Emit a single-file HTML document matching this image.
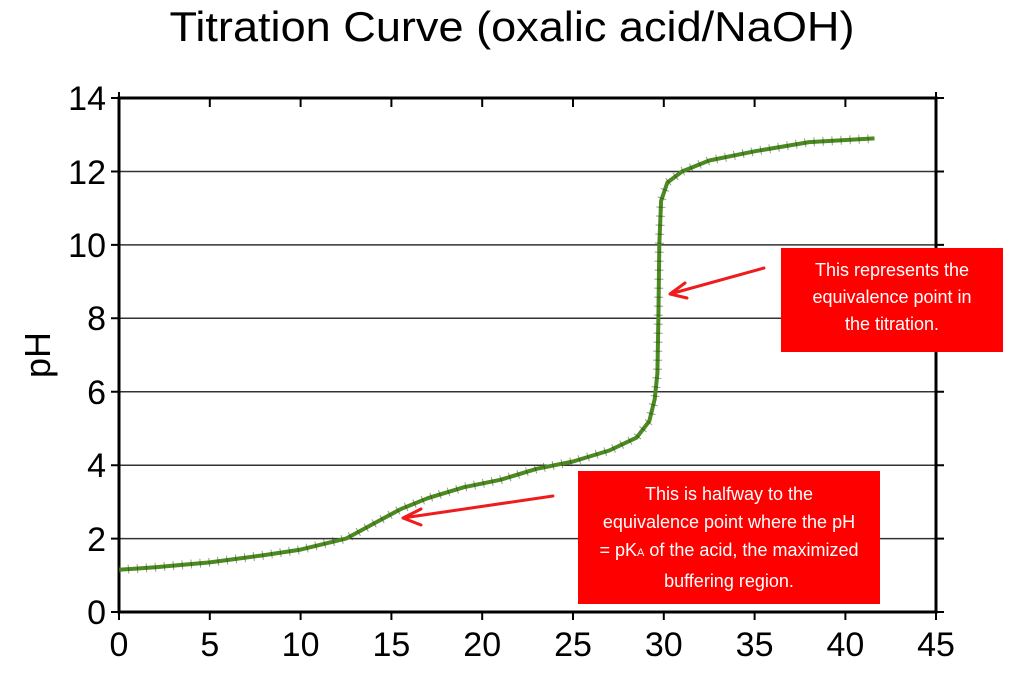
<!DOCTYPE html>
<html><head><meta charset="utf-8"><style>
body{margin:0;background:#fff;}
svg{display:block;font-family:"Liberation Sans",sans-serif;}
.box{position:absolute;box-sizing:border-box;background:#ff0000;color:#fff;font-family:"Liberation Sans",sans-serif;font-size:18px;text-align:center;white-space:nowrap;}
</style></head><body>
<div style="position:relative;width:1024px;height:674px;overflow:hidden">
<svg width="1024" height="674" viewBox="0 0 1024 674">
<text x="512" y="41" font-size="42" text-anchor="middle" textLength="685" lengthAdjust="spacingAndGlyphs">Titration Curve (oxalic acid/NaOH)</text>
<g stroke="#333" stroke-width="1.5">
<line x1="119" x2="936" y1="538.6" y2="538.6"/>
<line x1="119" x2="936" y1="465.2" y2="465.2"/>
<line x1="119" x2="936" y1="391.7" y2="391.7"/>
<line x1="119" x2="936" y1="318.3" y2="318.3"/>
<line x1="119" x2="936" y1="244.9" y2="244.9"/>
<line x1="119" x2="936" y1="171.5" y2="171.5"/>
</g>
<rect x="119" y="98" width="817" height="514" fill="none" stroke="#000" stroke-width="3"/>
<g stroke="#000" stroke-width="2">
<path d="M119 98v-6M209.8 98v9M300.6 98v9M391.4 98v9M482.2 98v9M573 98v9M663.8 98v9M754.6 98v9M845.4 98v9M936 98v-6"/>
<path d="M119 612v8M209.8 612v8M300.6 612v8M391.4 612v8M482.2 612v8M573 612v8M663.8 612v8M754.6 612v8M845.4 612v8M936 612v8"/>
<path d="M119 612h-8M119 538.6h-8M119 465.2h-8M119 391.7h-8M119 318.3h-8M119 244.9h-8M119 171.5h-8M119 98h-8"/>
<path d="M936 612h8M936 538.6h8M936 465.2h8M936 391.7h8M936 318.3h8M936 244.9h8M936 171.5h8M936 98h8"/>
</g>
<g font-size="34" text-anchor="end">
<text x="106" y="624">0</text><text x="106" y="551">2</text><text x="106" y="477">4</text><text x="106" y="404">6</text><text x="106" y="330">8</text><text x="106" y="257">10</text><text x="106" y="184">12</text><text x="106" y="110">14</text>
</g>
<g font-size="34" text-anchor="middle">
<text x="119" y="656">0</text><text x="209.8" y="656">5</text><text x="300.6" y="656">10</text><text x="391.4" y="656">15</text><text x="482.2" y="656">20</text><text x="573" y="656">25</text><text x="663.8" y="656">30</text><text x="754.6" y="656">35</text><text x="845.4" y="656">40</text><text x="936" y="656">45</text>
</g>
<text transform="translate(50,355) rotate(-90)" font-size="36" text-anchor="middle">pH</text>
<polyline fill="none" stroke="#4a8a1f" stroke-width="4" stroke-linejoin="round" points="119,569.8 155.3,567.2 209.8,562.4 264.3,555.1 300.6,549.6 346,538.6 373.2,523.9 400.5,509.2 427.7,498.2 464,487.2 500.4,479.8 536.7,468.8 573,461.5 609.3,450.5 636.6,437.6 649.3,421.1 654.7,399.1 657.4,373.4 658.4,318.3 659.3,244.9 661.1,200.8 667.4,182.5 682,171.5 709.2,160.5 754.6,151.3 809.1,142.1 874.5,138.4"/>
<polyline fill="none" stroke="#2a3a1a" stroke-width="9" stroke-dasharray="1 8" opacity="0.5" points="119,569.8 155.3,567.2 209.8,562.4 264.3,555.1 300.6,549.6 346,538.6 373.2,523.9 400.5,509.2 427.7,498.2 464,487.2 500.4,479.8 536.7,468.8 573,461.5 609.3,450.5 636.6,437.6 649.3,421.1 654.7,399.1 657.4,373.4 658.4,318.3 659.3,244.9 661.1,200.8 667.4,182.5 682,171.5 709.2,160.5 754.6,151.3 809.1,142.1 874.5,138.4"/>
<g stroke="#ee1c1c" stroke-width="3" fill="none" stroke-linecap="round">
<path d="M553 496L403 518M403 518L421 509M403 518L421 525"/>
<path d="M764 268L670 294M670 294L685 283M670 294L687 298"/>
</g>
</svg>
<div class="box" style="left:578px;top:471px;width:302px;height:133px;padding-top:9px;line-height:28px">This is halfway to the<br>equivalence point where the pH<br>= pK<span style="font-size:11px">A</span> of the acid, the maximized<br>buffering region.</div>
<div class="box" style="left:781px;top:248px;width:222px;height:104px;padding-top:9px;line-height:27px">This represents the<br>equivalence point in<br>the titration.</div>
</div>
</body></html>
